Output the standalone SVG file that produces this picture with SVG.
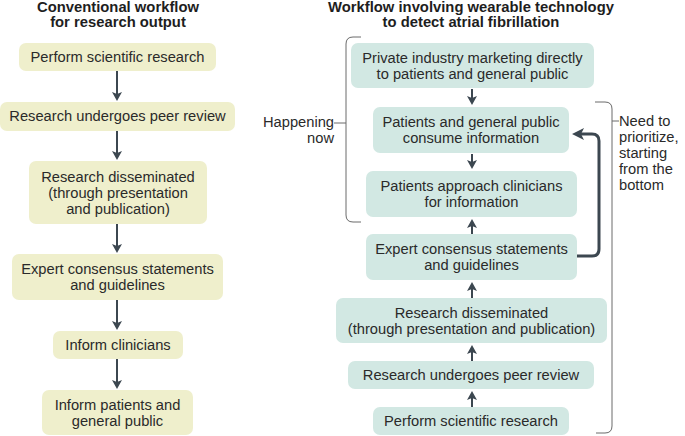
<svg xmlns="http://www.w3.org/2000/svg" width="685" height="436" viewBox="0 0 685 436">
<defs>
<style>
text{font-family:"Liberation Sans",Arial,sans-serif;fill:#2a2a2a;font-size:14.7px}
.t{font-weight:bold;font-size:14.8px;text-anchor:middle;fill:#1e1e1e}
.c{text-anchor:middle}
.y{fill:#efefcc}
.g{fill:#d2e8e3}
.a{stroke:#3c4750;stroke-width:2;fill:none;marker-end:url(#ah)}
.br{stroke:#6a6a6a;stroke-width:1;fill:none}
</style>
<marker id="ah" markerUnits="userSpaceOnUse" markerWidth="9" markerHeight="10" viewBox="0 0 9 10" refX="3" refY="5" orient="auto">
<path d="M0,0 L9,5 L0,10 L2,5 Z" fill="#3c4750"/>
</marker>
<marker id="ah2" markerUnits="userSpaceOnUse" markerWidth="12" markerHeight="12" viewBox="0 0 12 12" refX="4" refY="6" orient="auto">
<path d="M0,0 L12,6 L0,12 L3,6 Z" fill="#3c4750"/>
</marker>
</defs>

<text class="t" x="118" y="12">Conventional workflow</text>
<text class="t" x="118" y="27">for research output</text>
<text class="t" x="471" y="12">Workflow involving wearable technology</text>
<text class="t" x="471" y="27">to detect atrial fibrillation</text>

<g id="L1"><rect class="y" x="19" y="43" width="197" height="28" rx="7"/><text class="c" x="117.5" y="62">Perform scientific research</text></g>
<g id="L2"><rect class="y" x="0" y="102" width="235" height="29" rx="7"/><text class="c" x="117.5" y="121">Research undergoes peer review</text></g>
<g id="L3"><rect class="y" x="29" y="161" width="178" height="63" rx="7"/><text class="c" x="118" y="182">Research disseminated</text><text class="c" x="118" y="198">(through presentation</text><text class="c" x="118" y="214">and publication)</text></g>
<g id="L4"><rect class="y" x="12" y="254" width="211" height="46" rx="7"/><text class="c" x="117.5" y="274">Expert consensus statements</text><text class="c" x="117.5" y="290">and guidelines</text></g>
<g id="L5"><rect class="y" x="53" y="331" width="130" height="28" rx="7"/><text class="c" x="118" y="350">Inform clinicians</text></g>
<g id="L6"><rect class="y" x="42" y="390" width="151" height="45" rx="7"/><text class="c" x="117.5" y="410">Inform patients and</text><text class="c" x="117.5" y="426">general public</text></g>

<g id="R1"><rect class="g" x="351" y="43" width="243" height="45" rx="7"/><text class="c" x="472.5" y="63">Private industry marketing directly</text><text class="c" x="472.5" y="79">to patients and general public</text></g>
<g id="R2"><rect class="g" x="373" y="107" width="196" height="46" rx="7"/><text class="c" x="471" y="127">Patients and general public</text><text class="c" x="471" y="143">consume information</text></g>
<g id="R3"><rect class="g" x="366" y="171" width="211" height="46" rx="7"/><text class="c" x="471.5" y="191">Patients approach clinicians</text><text class="c" x="471.5" y="207">for information</text></g>
<g id="R4"><rect class="g" x="366" y="234" width="211" height="46" rx="7"/><text class="c" x="471.5" y="254">Expert consensus statements</text><text class="c" x="471.5" y="270">and guidelines</text></g>
<g id="R5"><rect class="g" x="336" y="298" width="271" height="45" rx="7"/><text class="c" x="471.5" y="318">Research disseminated</text><text class="c" x="471.5" y="334">(through presentation and publication)</text></g>
<g id="R6"><rect class="g" x="348" y="361" width="246" height="28" rx="7"/><text class="c" x="471" y="380">Research undergoes peer review</text></g>
<g id="R7"><rect class="g" x="373" y="407" width="196" height="28" rx="7"/><text class="c" x="471" y="426">Perform scientific research</text></g>

<g id="labels">
<text x="334" y="127" text-anchor="end">Happening</text>
<text x="334" y="143" text-anchor="end">now</text>
<text x="619" y="126">Need to</text>
<text x="619" y="142">prioritize,</text>
<text x="619" y="158">starting</text>
<text x="619" y="174">from the</text>
<text x="619" y="190">bottom</text>
<path class="br" d="M361,37 H353 Q346,37 346,44 V215 Q346,222 353,222 H361 M334,123 H346"/>
<path class="br" d="M595,102 H605 Q612,102 612,109 V426 Q612,433 605,433 H596 M612,121 H619"/>
</g>

<g id="connectors">
<path class="a" d="M117,71 V95"/>
<path class="a" d="M117,131 V154"/>
<path class="a" d="M117,224 V247"/>
<path class="a" d="M117,300 V324"/>
<path class="a" d="M117,359 V383"/>
<path class="a" d="M472,89 V99"/>
<path class="a" d="M472,154 V163"/>
<path class="a" d="M472,234 V225"/>
<path class="a" d="M472,298 V288"/>
<path class="a" d="M472,361 V351"/>
<path class="a" d="M472,407 V397"/>
<path d="M577,256 H592 Q599,256 599,249 V141 Q599,134 592,134 H580" stroke="#3c4750" stroke-width="3" fill="none" marker-end="url(#ah2)"/>
</g>
</svg>
